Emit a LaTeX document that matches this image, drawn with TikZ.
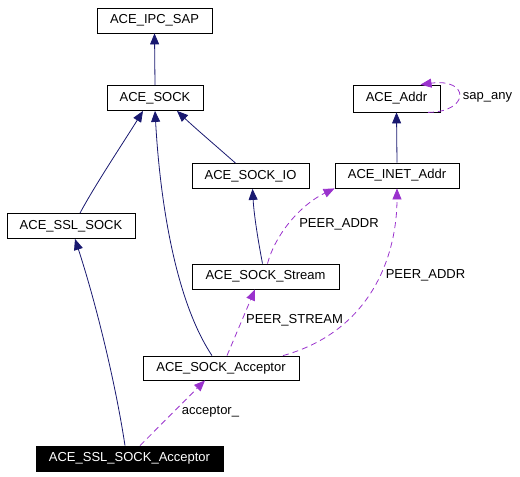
\documentclass[tikz,border=0pt]{standalone}
\usepackage{fontspec}
\setmainfont{Liberation Sans}
\usepackage{tikz}
\usetikzlibrary{arrows.meta}

\definecolor{inhblue}{RGB}{25,25,112}
\definecolor{usepurple}{RGB}{154,50,205}

\begin{document}
\begin{tikzpicture}[x=1pt, y=-1pt, >={Triangle[length=11pt,width=9pt]},
    cls/.style={draw, line width=0.8pt, minimum height=25pt, inner sep=0pt, font=\fontsize{13}{15}\selectfont},
    inherit/.style={->, inhblue, line width=0.8pt},
    member/.style={->, usepurple, line width=0.8pt, dash pattern=on 6pt off 4pt},
    lbl/.style={font=\fontsize{13}{15}\selectfont, inner sep=0pt}]
    \useasboundingbox (0,0) rectangle (520,477);

    % Classes
    \node[cls, minimum width=115pt] (ipcsap) at (154.5,20.5) {ACE\_IPC\_SAP};
    \node[cls, minimum width=96pt] (sock) at (155,98) {ACE\_SOCK};
    \node[cls, minimum width=117pt] (sockio) at (250.5,176) {ACE\_SOCK\_IO};
    \node[cls, minimum width=128pt] (sslsock) at (71,226) {ACE\_SSL\_SOCK};
    \node[cls, minimum width=87pt, minimum height=27pt] (addr) at (396.5,98.5) {ACE\_Addr};
    \node[cls, minimum width=124pt] (inetaddr) at (397,175.5) {ACE\_INET\_Addr};
    \node[cls, minimum width=147pt] (sockstream) at (265.5,276.5) {ACE\_SOCK\_Stream};
    \node[cls, minimum width=156pt, minimum height=24pt] (sockacc) at (221,368) {ACE\_SOCK\_Acceptor};
    \node[cls, fill=black, text=white, minimum width=187pt] (sslacc) at (129.5,458.5) {ACE\_SSL\_SOCK\_Acceptor};

    % Inheritance
    \draw[inherit] (sock.north) -- (ipcsap.south);
    \draw[inherit] ([xshift=9pt]sslsock.north) .. controls (95,185) and (125,140) .. ([xshift=-12pt]sock.south);
    \draw[inherit] ([xshift=-15pt]sockio.north) .. controls (215,145) and (195,128) .. ([xshift=22pt]sock.south);
    \draw[inherit] ([xshift=-9pt]sockacc.north) .. controls (175,300) and (160,200) .. (sock.south);
    \draw[inherit] ([xshift=-3pt]sockstream.north) .. controls (258,240) and (254,215) .. ([xshift=2pt]sockio.south);
    \draw[inherit] ([xshift=-4.5pt]sslacc.north) .. controls (115,380) and (95,300) .. ([xshift=4pt]sslsock.south);
    \draw[inherit] (inetaddr.north) -- (addr.south);

    % Members
    \draw[member] ([xshift=31.5pt]addr.south) .. controls (470,112) and (470,78) .. ([xshift=24pt]addr.north);
    \node[lbl] (sapany) at (487.5,97) {sap\_any};
    \draw[member] ([xshift=2pt]sockstream.north) .. controls (275,235) and (300,205) .. (inetaddr.south west);
    \node[lbl] (peeraddra) at (339,224) {PEER\_ADDR};
    \draw[member] ([xshift=62pt]sockacc.north) .. controls (375,330) and (397,250) .. (inetaddr.south);
    \node[lbl] (peeraddrb) at (425.5,275) {PEER\_ADDR};
    \draw[member] ([xshift=6pt]sockacc.north) -- ([xshift=-10.5pt]sockstream.south);
    \node[lbl] (peerstream) at (294.5,320) {PEER\_STREAM};
    \draw[member] ([xshift=10.5pt]sslacc.north) -- ([xshift=-16pt]sockacc.south);
    \node[lbl] (acceptor) at (210.5,412) {acceptor\_};
\end{tikzpicture}
\end{document}
